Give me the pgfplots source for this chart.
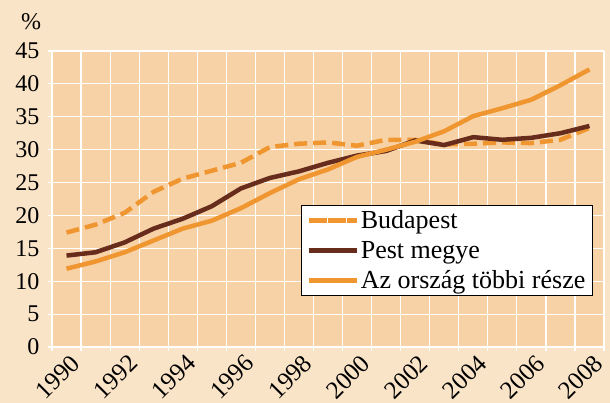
\documentclass[border=0pt]{standalone}
\usepackage{pgfplots}
\pgfplotsset{compat=1.18}
\usepackage{fontspec}
\setmainfont{Liberation Serif}
\definecolor{outerbg}{RGB}{250,228,200}
\definecolor{plotbg}{RGB}{247,210,166}
\definecolor{orng}{RGB}{240,150,48}
\definecolor{brwn}{RGB}{104,44,28}

\pgfplotstableread{
year bud pest rest
1990 17.4 13.9 11.9
1991 18.6 14.4 13.0
1992 20.4 15.9 14.4
1993 23.6 18.0 16.2
1994 25.6 19.5 18.0
1995 26.8 21.4 19.2
1996 28.0 24.1 21.1
1997 30.4 25.7 23.4
1998 30.9 26.7 25.5
1999 31.1 28.0 27.0
2000 30.6 29.1 28.9
2001 31.5 29.8 30.0
2002 31.5 31.4 31.2
2003 30.8 30.7 32.8
2004 30.9 31.9 35.1
2005 31.1 31.5 36.3
2006 31.0 31.8 37.6
2007 31.5 32.5 39.8
2008 33.3 33.6 42.2
}\datatable

\begin{document}
\begin{tikzpicture}
\path[use as bounding box] (-52pt,-56pt) rectangle (558pt,347pt);
\fill[outerbg] (-52pt,-56pt) rectangle (558pt,347pt);
\node[font=\fontsize{24}{24}\selectfont] at (-21pt,325pt) {\%};
\begin{axis}[
  at={(0pt,0pt)}, anchor=south west,
  scale only axis, width=552pt, height=296pt,
  xmin=1989.5, xmax=2008.5, ymin=0, ymax=45,
  axis background/.style={fill=plotbg},
  axis line style={draw=none},
  xtick={1989.5,1990.5,...,2008.5},
  xticklabels={},
  extra x ticks={1990,1992,...,2008},
  extra x tick labels={1990,1992,1994,1996,1998,2000,2002,2004,2006,2008},
  extra x tick style={grid=none, major tick length=0pt},
  ytick={0,5,...,45},
  xtick pos=bottom, ytick pos=left,
  tick align=outside,
  major tick length=4pt,
  tick style={white, line width=1.2pt},
  grid=major,
  major grid style={white, line width=1.2pt},
  /pgf/number format/assume math mode=true,
  yticklabel style={font=\fontsize{24}{24}\selectfont, black, xshift=-5pt},
  xticklabel style={font=\fontsize{25}{25}\selectfont, black, rotate=45, anchor=north east, xshift=1pt, yshift=-3pt},
  legend style={at={(0.980,0.480)}, anchor=north east, draw=black, line width=1.2pt,
    fill=white, font=\fontsize{26}{28}\selectfont, inner xsep=5pt, inner ysep=3pt,
    row sep=7pt},
  legend cell align=left,
  legend image code/.code={\path (0pt,0pt) -- (48pt,0pt); \draw[#1] (5pt,0pt) -- (41pt,0pt);},
]
\addplot[orng, line width=4.5pt, dash pattern=on 13pt off 6pt] table[x=year,y=bud] {\datatable};
\addlegendentry{Budapest}
\addplot[brwn, line width=4.5pt] table[x=year,y=pest] {\datatable};
\addlegendentry{Pest megye}
\addplot[orng, line width=4.5pt] table[x=year,y=rest] {\datatable};
\addlegendentry{Az ország többi része}
\end{axis}
\end{tikzpicture}
\end{document}
